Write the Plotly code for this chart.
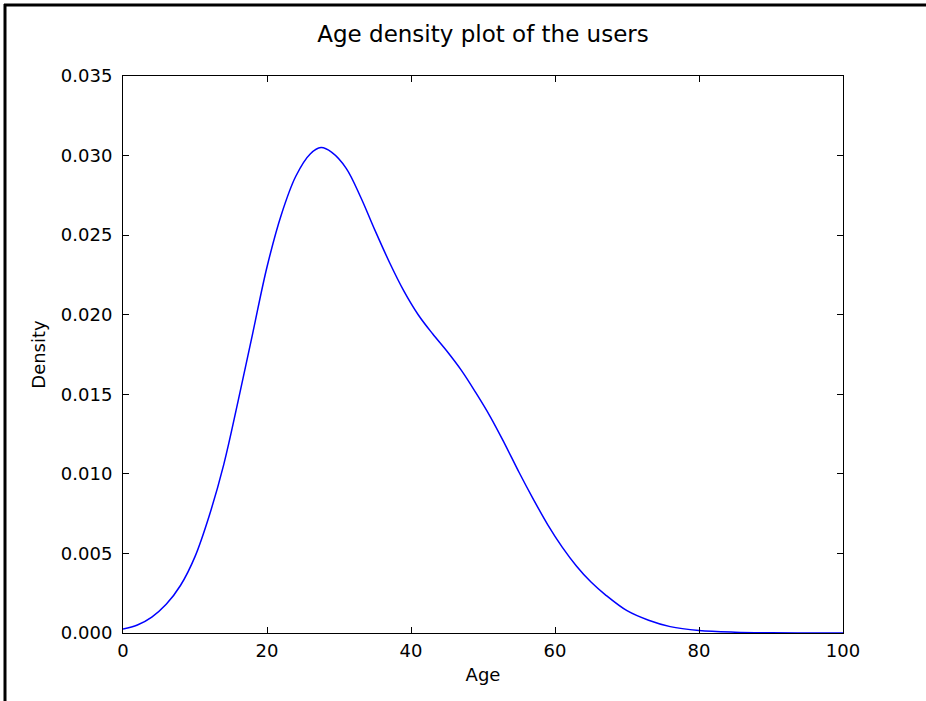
import plotly.graph_objects as go

# Data (age vs density estimate)
ages = [0, 2, 4, 6, 8, 10, 12, 14, 16, 18, 20, 22, 24, 26, 27.5, 29, 31, 33, 35, 37,
        39, 41, 43, 45, 47, 49, 51, 53, 55, 57, 59, 61, 63, 65, 67, 70, 73, 76, 80,
        85, 90, 95, 100]
density = [0.00025, 0.0005, 0.0010, 0.0018, 0.0030, 0.0048, 0.0074, 0.0106, 0.0146,
           0.0188, 0.0230, 0.0263, 0.0287, 0.0301, 0.0305, 0.0302, 0.0292, 0.0274,
           0.0253, 0.0233, 0.0215, 0.0200, 0.0188, 0.0177, 0.0165, 0.0151, 0.0136,
           0.0119, 0.0101, 0.0084, 0.0068, 0.0054, 0.0042, 0.0032, 0.0024, 0.00140,
           0.00080, 0.0004, 0.00016, 0.00005, 0.00001, 0.000002, 0.0]

x_ticks = [0, 20, 40, 60, 80, 100]
y_ticks = [0.000, 0.005, 0.010, 0.015, 0.020, 0.025, 0.030, 0.035]
y_tick_labels = ["0.000", "0.005", "0.010", "0.015", "0.020", "0.025", "0.030", "0.035"]

W, H = 926, 701
ML, MR, MT, MB = 123, 83, 76, 68
PW, PH = W - ML - MR, H - MT - MB

FONT = "DejaVu Sans"

fig = go.Figure()
fig.add_trace(go.Scatter(
    x=ages, y=density, mode="lines",
    line=dict(color="#0000ff", width=1.5, shape="spline", smoothing=1.0),
    hoverinfo="skip", showlegend=False,
))

axis_common = dict(
    showline=True, linecolor="black", linewidth=1, mirror="ticks",
    ticks="inside", ticklen=6, tickwidth=1, tickcolor="black",
    showgrid=False, zeroline=False,
    tickfont=dict(family=FONT, size=18, color="black"),
)

fig.update_layout(
    width=W, height=H,
    margin=dict(l=ML, r=MR, t=MT, b=MB, pad=0),
    paper_bgcolor="white", plot_bgcolor="white",
    font=dict(family=FONT, color="black"),
    title=dict(text="Age density plot of the users", x=0.5, xref="paper", xanchor="center",
               y=1 - 34 / H, yref="container", yanchor="middle",
               font=dict(family=FONT, size=23, color="black")),
    xaxis=dict(range=[0, 100], tickvals=x_ticks, ticktext=[str(v) for v in x_ticks],
               title=dict(text="Age", font=dict(family=FONT, size=18, color="black"), standoff=8),
               ticklabelstandoff=1,
               **axis_common),
    yaxis=dict(range=[0, 0.035], tickvals=y_ticks, ticktext=y_tick_labels,
               title=dict(text="Density", font=dict(family=FONT, size=18, color="black"), standoff=10),
               ticklabelstandoff=6,
               **axis_common),
)

# Image frame (top and left edges)
fig.add_shape(type="line", xref="paper", yref="paper",
              x0=(4 - ML) / PW, x1=(W - ML) / PW, y0=(H - MB - 5) / PH, y1=(H - MB - 5) / PH,
              line=dict(color="black", width=3))
fig.add_shape(type="line", xref="paper", yref="paper",
              x0=(5 - ML) / PW, x1=(5 - ML) / PW, y0=(H - MB - 4) / PH, y1=-MB / PH,
              line=dict(color="black", width=3))

fig.write_html("out.html", config={"displayModeBar": False, "staticPlot": True},
               post_script="document.body.style.margin='0';document.body.style.overflow='hidden';")
